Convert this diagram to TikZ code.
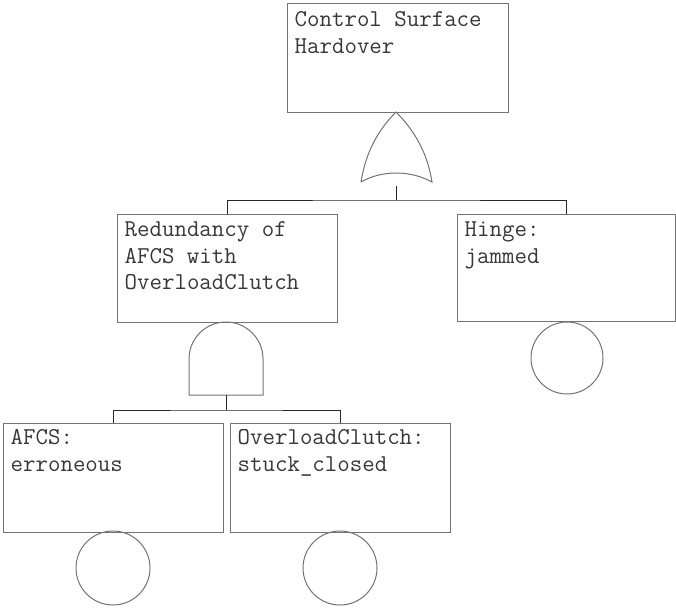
\documentclass[tikz,border=0pt]{standalone}
\usepackage{fontspec}
% fixed height for the first line, so that every label starts at the same baseline
\newcommand{\toprule}{\rule{0pt}{19pt}}
\begin{document}
\begin{tikzpicture}[x=1pt, y=-1pt,
  eventbox/.style={draw=black!55, line width=1pt, rectangle, inner sep=0pt, fill=white},
  eventtext/.style={anchor=north west, align=left, inner sep=0pt, xshift=8pt, yshift=-4pt,
    font=\ttfamily\fontsize{24.2}{26.5}\selectfont, text=black!78},
  basic/.style={draw=black!55, line width=1pt, circle, inner sep=0pt, minimum size=73pt},
  gate/.style={draw=black!55, line width=1pt},
  wire/.style={draw=black!85, line width=1pt}
]
\useasboundingbox (0,0) rectangle (676,607);

% events
\node[eventbox, minimum width=221pt, minimum height=108pt] (top) at (397.5,58) {};
\node[eventtext] at (top.north west) {\toprule Control Surface\\Hardover};

\node[eventbox, minimum width=220pt, minimum height=108pt] (red) at (227,268) {};
\node[eventtext] at (red.north west) {\toprule Redundancy of\\AFCS with\\OverloadClutch};

\node[eventbox, minimum width=218pt, minimum height=107pt] (hinge) at (566,267.5) {};
\node[eventtext] at (hinge.north west) {\toprule Hinge:\\jammed};

\node[eventbox, minimum width=220pt, minimum height=109pt] (afcs) at (113,477.5) {};
\node[eventtext, yshift=1pt] at (afcs.north west) {\toprule AFCS:\\erroneous};

\node[eventbox, minimum width=220pt, minimum height=109pt] (clutch) at (340,477.5) {};
\node[eventtext, yshift=1pt] at (clutch.north west) {\toprule OverloadClutch:\\stuck\_closed};

% basic event circles
\node[basic, minimum size=72pt] (hingec) at (567,358) {};
\node[basic, minimum size=74pt] (afcsc) at (113,568) {};
\node[basic, minimum size=74pt] (clutchc) at (340,568) {};

% OR gate under the top event
\draw[gate] (361,182) .. controls (366,150) and (380,128) .. (396,112)
  .. controls (412,128) and (427,150) .. (432,182)
  .. controls (410,170) and (382,170) .. (361,182);
\coordinate (orout) at (396,186);
\coordinate (orbar) at (396,200);
\draw[wire] (orout) -- (orbar);
\draw[wire] (red.north) |- (orbar) -| (hinge.north);

% AND gate under the redundancy event
\draw[gate] (189,395) -- (189,359) arc[start angle=180, end angle=0, radius=37pt] -- (263,395) -- cycle;
\coordinate (andout) at (226,395);
\coordinate (andbar) at (226,410);
\draw[wire] (andout) -- (andbar);
\draw[wire] (afcs.north) |- (andbar) -| (clutch.north);
\end{tikzpicture}
\end{document}
